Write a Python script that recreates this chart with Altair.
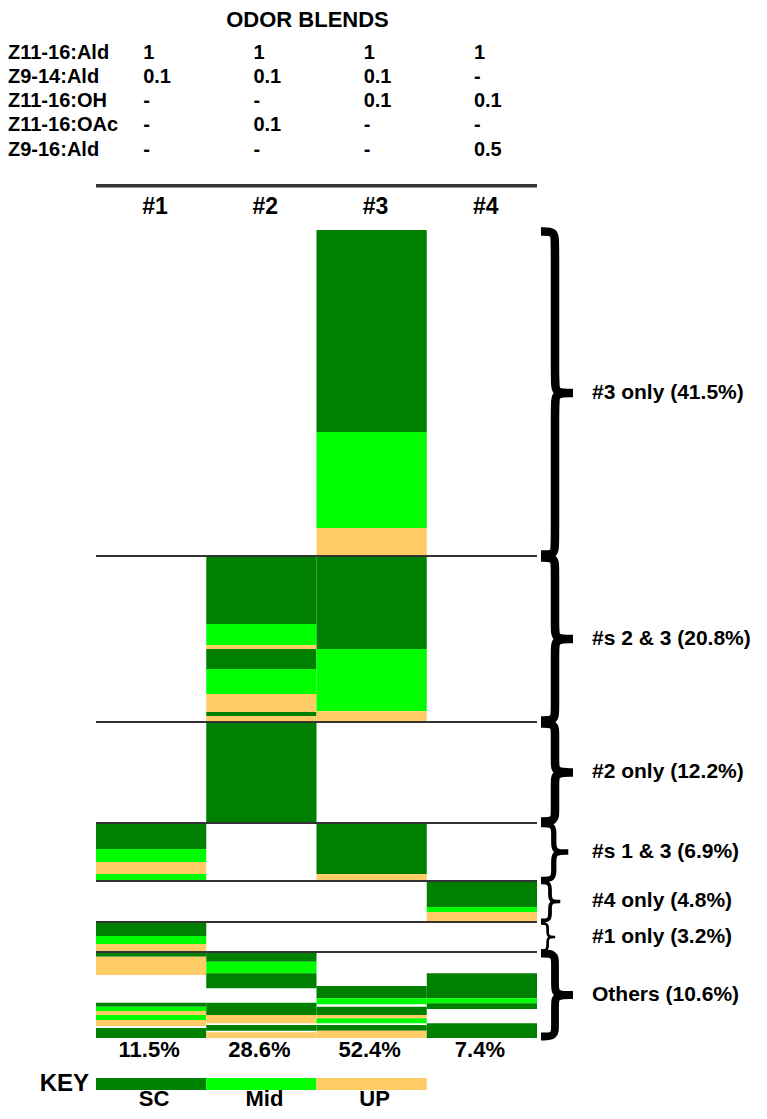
import altair as alt
import pandas as pd

# ---------------- data ----------------
BLENDS = ["#1", "#2", "#3", "#4"]
BLEND_SHARE = ["11.5%", "28.6%", "52.4%", "7.4%"]
COMPOUNDS = ["Z11-16:Ald", "Z9-14:Ald", "Z11-16:OH", "Z11-16:OAc", "Z9-16:Ald"]
RATIO_B1 = ["1", "0.1", "-", "-", "-"]
RATIO_B2 = ["1", "0.1", "-", "0.1", "-"]
RATIO_B3 = ["1", "0.1", "0.1", "-", "-"]
RATIO_B4 = ["1", "-", "0.1", "-", "0.5"]

ZONES = ["SC", "Mid", "UP"]
ZONE_COLORS = ["#008000", "#00ff00", "#ffcc66"]

GROUPS = ["#3 only (41.5%)", "#s 2 & 3 (20.8%)", "#2 only (12.2%)",
          "#s 1 & 3 (6.9%)", "#4 only (4.8%)", "#1 only (3.2%)", "Others (10.6%)"]
# cumulative share of cells (%), top -> bottom
GROUP_BOUNDS = [0, 40.35, 60.89, 73.39, 80.57, 85.64, 89.36, 100]

# stripes per blend column: (from, to, zone) on the cumulative cell axis
STRIPES_B1 = [
    (73.39, 76.61, "SC"), (76.61, 78.22, "Mid"), (78.22, 79.70, "UP"), (79.70, 80.57, "Mid"),
    (85.64, 87.38, "SC"), (87.38, 88.37, "Mid"), (88.37, 89.36, "UP"),
    (89.36, 89.94, "SC"), (89.94, 92.20, "UP"),
    (95.63, 96.13, "SC"), (96.13, 96.66, "Mid"), (96.66, 97.15, "UP"),
    (97.15, 97.77, "Mid"), (97.77, 98.51, "UP"), (98.76, 100.0, "SC"),
]
STRIPES_B2 = [
    (40.35, 48.76, "SC"), (48.76, 51.36, "Mid"), (51.36, 51.86, "UP"), (51.86, 54.33, "SC"),
    (54.33, 57.43, "Mid"), (57.43, 59.65, "UP"), (59.65, 60.15, "SC"), (60.15, 60.89, "UP"),
    (60.89, 73.39, "SC"),
    (89.36, 90.56, "SC"), (90.56, 91.99, "Mid"), (91.99, 93.85, "SC"),
    (95.63, 97.15, "SC"), (97.15, 98.18, "UP"), (98.39, 99.10, "SC"), (99.29, 100.0, "UP"),
]
STRIPES_B3 = [
    (0.0, 25.0, "SC"), (25.0, 36.88, "Mid"), (36.88, 40.35, "UP"),
    (40.35, 51.86, "SC"), (51.86, 59.57, "Mid"), (59.57, 60.89, "UP"),
    (73.39, 79.70, "SC"), (79.70, 80.57, "UP"),
    (93.56, 95.09, "SC"), (95.09, 95.83, "Mid"), (96.13, 97.15, "SC"), (97.15, 97.56, "UP"),
    (97.56, 98.18, "Mid"), (98.39, 99.10, "SC"), (99.10, 100.0, "UP"),
]
STRIPES_B4 = [
    (80.57, 83.79, "SC"), (83.79, 84.41, "Mid"), (84.41, 85.64, "UP"),
    (91.99, 95.09, "SC"), (95.09, 95.71, "Mid"), (95.71, 96.41, "SC"), (98.18, 100.0, "SC"),
]

# ---------------- layout (scale units) ----------------
W, H = 751, 1103
PX_COL = 110.25          # pixels per blend column
PX_PCT = 8.08            # pixels per % of cells
X_MIN = -88 / PX_COL
X_MAX = X_MIN + W / PX_COL
Y_MIN = -222 / PX_PCT
Y_MAX = Y_MIN + H / PX_PCT

FONT = "Liberation Sans"
xs = alt.Scale(domain=[X_MIN, X_MAX], nice=False, zero=False)
ys = alt.Scale(domain=[Y_MIN, Y_MAX], nice=False, zero=False, reverse=True)
cs = alt.Scale(domain=ZONES, range=ZONE_COLORS)


def X(f):
    return alt.X(f, type="quantitative", scale=xs, axis=None)


def Y(f):
    return alt.Y(f, type="quantitative", scale=ys, axis=None)


# stripes
rows = []
for i, stripes in enumerate([STRIPES_B1, STRIPES_B2, STRIPES_B3, STRIPES_B4]):
    for a, b, z in stripes:
        rows.append({"x0": i, "x1": i + 1, "top": a, "bottom": b, "zone": z})
stripe_df = pd.DataFrame(rows)

bars = alt.Chart(stripe_df).mark_rect(strokeWidth=0).encode(
    x=X("x0"), x2="x1", y=Y("top"), y2="bottom",
    color=alt.Color("zone:N", scale=cs, legend=None),
)

# separators between groups
sep_df = pd.DataFrame({"y": GROUP_BOUNDS[1:-1], "x0": 0, "x1": len(BLENDS)})
seps = alt.Chart(sep_df).mark_rule(color="#333333", strokeWidth=2).encode(
    x=X("x0"), x2="x1", y=Y("y"))

# header line
HEAD_LINE_Y = -5.48
hl_df = pd.DataFrame({"y": [HEAD_LINE_Y], "x0": [0], "x1": [len(BLENDS)]})
head_line = alt.Chart(hl_df).mark_rule(color="#333333", strokeWidth=3.5).encode(
    x=X("x0"), x2="x1", y=Y("y"))


def text_layer(df, size, align="center", dx=0, dy=0):
    return alt.Chart(df).mark_text(
        font=FONT, fontSize=size, fontWeight="bold", align=align,
        baseline="middle", color="black", dx=dx, dy=dy,
    ).encode(x=X("x"), y=Y("y"), text="t:N")


# title
title = text_layer(pd.DataFrame({"x": [2.0], "y": [-25.95], "t": ["ODOR BLENDS"]}), 22, dx=-9)

# compound table
ROW0, ROWSTEP = -21.95, 3.0
comp_df = pd.DataFrame({"x": [X_MIN] * len(COMPOUNDS),
                        "y": [ROW0 + k * ROWSTEP for k in range(len(COMPOUNDS))],
                        "t": COMPOUNDS})
comp = text_layer(comp_df, 20, align="left")
rrows = []
for i, col in enumerate([RATIO_B1, RATIO_B2, RATIO_B3, RATIO_B4]):
    for k, v in enumerate(col):
        rrows.append({"x": i + 0.5, "y": ROW0 + k * ROWSTEP, "t": v})
ratios = text_layer(pd.DataFrame(rrows), 20, align="left", dx=-8)

# blend headers
hdr = text_layer(pd.DataFrame({"x": [i + 0.5 for i in range(4)], "y": [-2.85] * 4, "t": BLENDS}), 23, dx=4)

# share per blend
share = text_layer(pd.DataFrame({"x": [i + 0.5 for i in range(4)], "y": [101.5] * 4, "t": BLEND_SHARE}), 22, dx=-2)

# key
KEY_TOP, KEY_BOT = 104.95, 106.44
key_df = pd.DataFrame({"x0": [0, 1, 2], "x1": [1, 2, 3], "top": KEY_TOP, "bottom": KEY_BOT, "zone": ZONES})
key_bar = alt.Chart(key_df).mark_rect(strokeWidth=0).encode(
    x=X("x0"), x2="x1", y=Y("top"), y2="bottom",
    color=alt.Color("zone:N", scale=cs, legend=None))
key_word = text_layer(pd.DataFrame({"x": [0], "y": [(KEY_TOP + KEY_BOT) / 2], "t": ["KEY"]}), 24, align="right", dx=-7)
key_lab = text_layer(pd.DataFrame({"x": [0.5, 1.5, 2.5], "y": [107.5] * 3, "t": ZONES}), 22, dx=3)

# braces + group labels
BR_LEFT = (541 - 96) / PX_COL
LABEL_X = (592 - 96) / PX_COL
brow = []
lrow = []
for g, name in enumerate(GROUPS):
    t, b = GROUP_BOUNDS[g], GROUP_BOUNDS[g + 1]
    hpx = (b - t) * PX_PCT
    hook = min(10, hpx / 5) / PX_PCT
    sd = min(14, hpx * 0.22) / PX_COL
    td = min(18, hpx * 0.25) / PX_COL
    gap = 1.5 / PX_PCT
    tt, bb = t + gap, b - gap
    m = (t + b) / 2
    pts = [(0, tt), (0, tt), (sd, tt), (sd, tt + hook), (sd, m - hook), (sd, m),
           (sd + td, m), (sd + td, m), (sd + td, m),
           (sd, m), (sd, m + hook), (sd, bb - hook), (sd, bb), (0, bb), (0, bb)]
    sw = min(8.5, max(2.2, hpx / 11))
    for k, (px, py) in enumerate(pts):
        brow.append({"g": g, "k": k, "x": BR_LEFT + px, "y": py, "sw": sw})
    lrow.append({"x": LABEL_X, "y": m, "t": name})

braces = alt.Chart(pd.DataFrame(brow)).mark_line(
    interpolate="basis", color="black", strokeCap="butt").encode(
    x=X("x"), y=Y("y"), detail="g:N", order="k:Q",
    strokeWidth=alt.StrokeWidth("sw:Q", scale=None))
glabels = text_layer(pd.DataFrame(lrow), 21, align="left")

chart = alt.layer(
    bars, seps, head_line, title, comp, ratios, hdr, share,
    key_bar, key_word, key_lab, braces, glabels,
).properties(
    width=W, height=H, padding=0,
    autosize=alt.AutoSizeParams(type="none"),
).configure_view(stroke=None)

chart.save("out.html", embed_options={"renderer": "svg", "actions": False})
